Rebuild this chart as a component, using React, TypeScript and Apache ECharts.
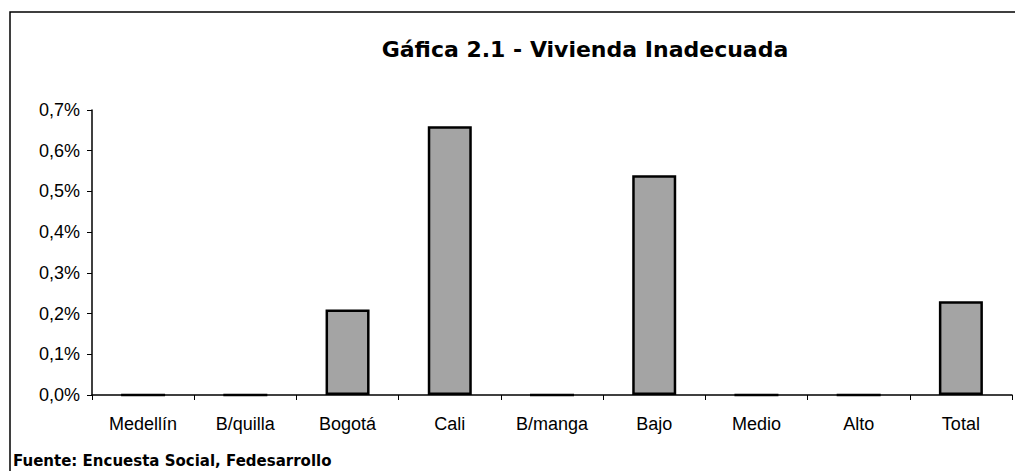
import React, { useEffect, useRef } from "react";
import * as echarts from "echarts";

const categories = ["Medellín", "B/quilla", "Bogotá", "Cali", "B/manga", "Bajo", "Medio", "Alto", "Total"];
const values = [0, 0, 0.21, 0.66, 0, 0.54, 0, 0, 0.23];
const yMin = 0;
const yMax = 0.7;
const yInterval = 0.1;

const titleText = "Gáfica 2.1 - Vivienda Inadecuada";
const sourceText = "Fuente: Encuesta Social, Fedesarrollo";

const FONT = "'Liberation Sans', Arial, sans-serif";
const WIDE = "'DejaVu Sans', 'Liberation Sans', sans-serif";

export default function App() {
  const ref = useRef<HTMLDivElement>(null);
  useEffect(() => {
    if (!ref.current) return;
    const chart = echarts.init(ref.current, undefined, { renderer: "svg" });
    chart.setOption({
      animation: false,
      backgroundColor: "#ffffff",
      title: {
        text: titleText,
        left: 580,
        top: 33,
        textAlign: "center",
        textStyle: { fontFamily: WIDE, fontSize: 22, fontWeight: "bold", color: "#000" },
      },
      grid: { left: 92, right: 3, top: 110, bottom: 76, containLabel: false },
      xAxis: {
        type: "category",
        data: categories,
        axisLine: { lineStyle: { color: "#000", width: 1.5 } },
        axisTick: { show: true, length: 5, inside: false, lineStyle: { color: "#000" } },
        axisLabel: { fontFamily: FONT, fontSize: 18, color: "#000", margin: 20 },
      },
      yAxis: {
        type: "value",
        min: yMin,
        max: yMax,
        interval: yInterval,
        axisLine: { show: true, lineStyle: { color: "#000", width: 1.5 } },
        axisTick: { show: true, length: 5, lineStyle: { color: "#000" } },
        splitLine: { show: false },
        axisLabel: {
          fontFamily: FONT,
          fontSize: 18,
          color: "#000",
          margin: 12,
          formatter: (v: number) => v.toFixed(1).replace(".", ",") + "%",
        },
      },
      series: [
        {
          type: "bar",
          data: values,
          barWidth: 44,
          itemStyle: {
            color: "#a4a4a4",
            borderColor: "#000",
            borderWidth: 2.5,
          },
        },
      ],
      graphic: [
        {
          type: "rect",
          shape: { x: 10, y: 12, width: 1030, height: 470 },
          style: { fill: "none", stroke: "#000", lineWidth: 1.5 },
          silent: true,
        },
        {
          type: "text",
          left: 13,
          top: 453,
          style: {
            text: sourceText,
            font: `bold 15px ${WIDE}`,
            fill: "#000",
          },
        },
      ],
    });
    return () => chart.dispose();
  }, []);
  return (
    <div
      ref={ref}
      style={{ position: "fixed", left: 0, top: 0, width: 1015, height: 471, background: "#fff" }}
    />
  );
}
